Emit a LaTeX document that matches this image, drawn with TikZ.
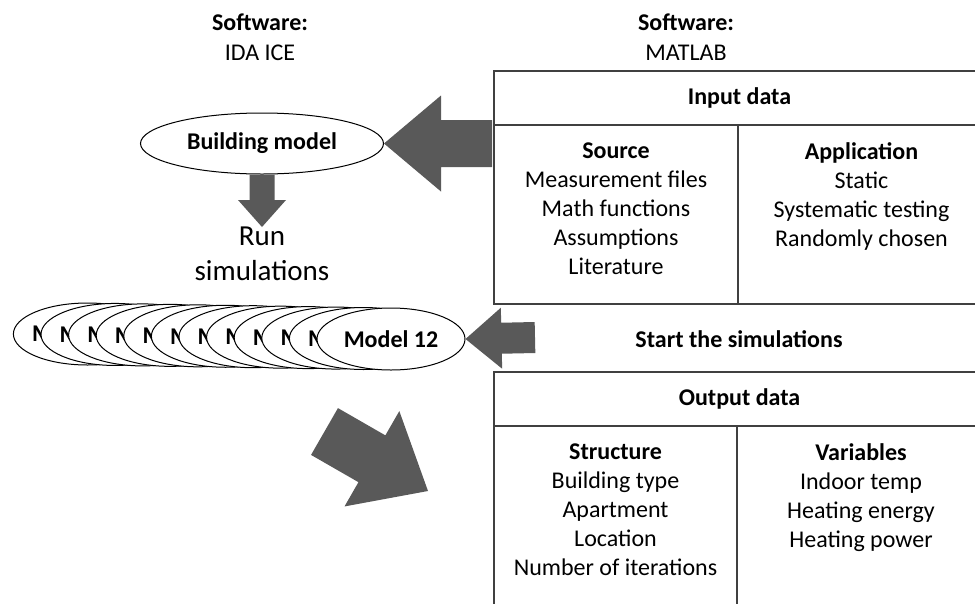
\documentclass[tikz,border=0pt]{standalone}
\usepackage{fontspec}
\setmainfont{Carlito}
\usetikzlibrary{positioning,shapes.geometric,calc}
\definecolor{arrowcolor}{RGB}{89,89,89}
\definecolor{gridcolor}{RGB}{64,64,64}
\newcommand{\bodysize}{\fontsize{24}{29}\selectfont}
\newcommand{\bigsize}{\fontsize{29}{35}\selectfont}
% block arrow: tail, tip, shaft half width, head half width, head length
\newcommand{\blockarrow}[5]{%
	\coordinate (hb) at ($(#2)!#5!(#1)$);
	\fill[arrowcolor] ($(#1)!#3!90:(#2)$) -- ($(hb)!#3!90:(#2)$) -- ($(hb)!#4!90:(#2)$)
		-- (#2) -- ($(hb)!#4!-90:(#2)$) -- ($(hb)!#3!-90:(#2)$) -- ($(#1)!#3!-90:(#2)$) -- cycle;
}

\begin{document}
\begin{tikzpicture}[x=1pt, y=-1pt,
		% Shape styles
		cellbox/.style={rectangle, draw=gridcolor, line width=1.3pt, outer sep=0pt, inner sep=0pt,
			font=\bodysize\bfseries},
		celltext/.style={anchor=north, align=center, inner sep=0pt, font=\bodysize},
		ell/.style={ellipse, draw=black, fill=white, line width=1pt, inner sep=0pt},
		modelell/.style={ell, minimum width=148pt, minimum height=62pt},
		% Text styles
		label/.style={anchor=base, inner sep=0pt, font=\bodysize},
		modeltext/.style={inner sep=0pt, font=\bodysize\bfseries}
		]
		\useasboundingbox (0,0) rectangle (975,603);
		
		% Software labels
		\node[label, font=\bodysize\bfseries] (swida) at (260,30) {Software:};
		\node[label] (idaice) at (260,60) {IDA ICE};
		\node[label, font=\bodysize\bfseries] (swmat) at (686,30) {Software:};
		\node[label] (matlab) at (686,60) {MATLAB};
		
		% Input data table
		\node[cellbox, anchor=north west, minimum width=491pt, minimum height=54pt] (inhead) at (494,71) {Input data};
		\node[cellbox, anchor=north west, minimum width=244pt, minimum height=179pt] (insrc) at (inhead.south west) {};
		\node[cellbox, anchor=north west, minimum width=247pt, minimum height=179pt] (inapp) at (insrc.north east) {};
		\node[celltext] (srctext) at ($(insrc.north)+(0,18)$)
			{\textbf{Source}\\Measurement files\\Math functions\\Assumptions\\Literature};
		\node[celltext] (apptext) at ($(inapp.north)+(0,17)$)
			{\textbf{Application}\\Static\\Systematic testing\\Randomly chosen};
		
		% Start row
		\node[label, font=\bodysize\bfseries] (starttext) at (739,347) {Start the simulations};
		
		% Output data table
		\node[cellbox, anchor=north west, minimum width=491pt, minimum height=54pt] (outhead) at (494,372) {Output data};
		\node[cellbox, anchor=north west, minimum width=243pt, minimum height=200pt] (outstr) at (outhead.south west) {};
		\node[cellbox, anchor=north west, minimum width=248pt, minimum height=200pt] (outvar) at (outstr.north east) {};
		\node[celltext] (strtext) at ($(outstr.north)+(0,18)$)
			{\textbf{Structure}\\Building type\\Apartment\\Location\\Number of iterations};
		\node[celltext] (vartext) at ($(outvar.north)+(0,17)$)
			{\textbf{Variables}\\Indoor temp\\Heating energy\\Heating power};
		
		% IDA ICE side
		\node[ell, minimum width=243pt, minimum height=61pt, font=\bodysize\bfseries] (bm) at (262,143.5) {Building model};
		\node[anchor=north, align=center, inner sep=0pt, font=\bigsize] (runsim) at (262,227) {Run\\simulations};
		
		% Stack of models (only the M of each hidden label shows)
		\foreach \k in {1,...,11}{
			\node[modelell] (m\k) at ({391-(12-\k)*27.6}, {334+0.45*(\k-1)}) {};
			\node[modeltext, anchor=west] (mt\k) at ([xshift=19pt]m\k.west) {M};
		}
		\node[modelell, font=\bodysize\bfseries] (m12) at (391,339) {Model 12};
		
		% Block arrows
		\coordinate (intail) at ([xshift=-2pt]insrc.west |- bm.east);
		\blockarrow{intail}{bm.east}{23.5pt}{48pt}{57pt}
		\blockarrow{bm.south}{runsim.north}{12.5pt}{24pt}{27pt}
		\coordinate (starttail) at (535,337.5);
		\blockarrow{starttail}{m12.east}{15.5pt}{30.5pt}{36pt}
		\coordinate (outtail) at (324.5,431.5);
		\coordinate (outtip) at (428,491);
		\blockarrow{outtail}{outtip}{27pt}{55pt}{64.7pt}
		
	\end{tikzpicture}
\end{document}
